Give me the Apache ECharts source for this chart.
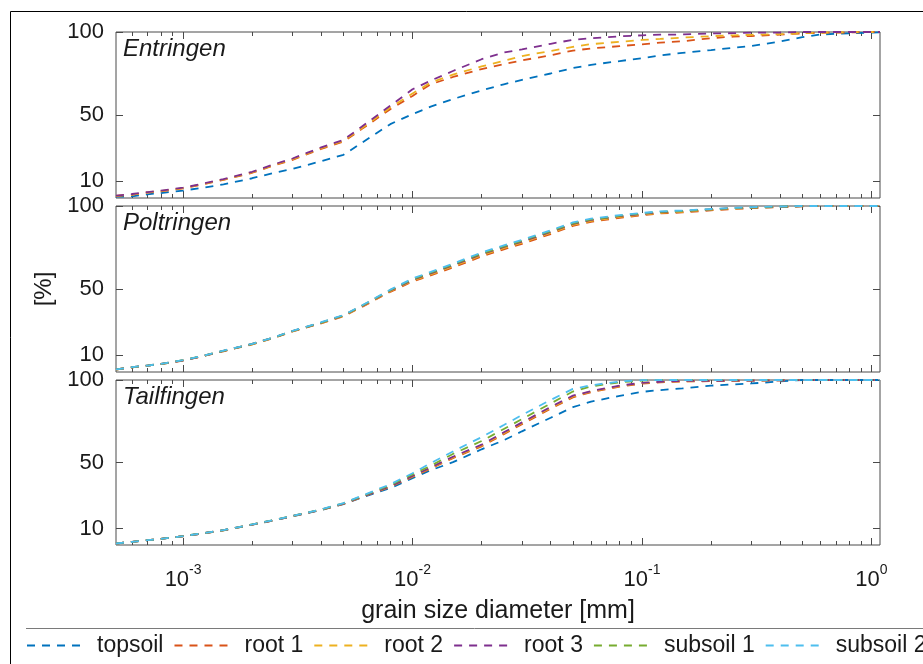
<!DOCTYPE html>
<html><head><meta charset="utf-8">
<script src="https://cdn.jsdelivr.net/npm/echarts@6/dist/echarts.min.js"></script>
<style>html,body{margin:0;padding:0;background:#fff}#c{width:923px;height:664px}</style>
</head><body><div id="c"></div>
<script>
// ---- data ----
const grainSize = [0.00051, 0.0006, 0.0007, 0.0008, 0.001, 0.0012, 0.0015, 0.002, 0.0025, 0.003, 0.004, 0.005, 0.006, 0.008, 0.01, 0.012, 0.015, 0.02, 0.025, 0.03, 0.04, 0.05, 0.06, 0.08, 0.1, 0.12, 0.15, 0.2, 0.25, 0.3, 0.4, 0.5, 0.6, 0.8, 1.0, 1.09];
const seriesNames = ['topsoil', 'root 1', 'root 2', 'root 3', 'subsoil 1', 'subsoil 2'];
const siteNames = ['Entringen', 'Poltringen', 'Tailfingen'];
const xMajorTicks = [0.001, 0.01, 0.1, 1];
const xMinorTicks = [0.0006, 0.0007, 0.0008, 0.0009, 0.002, 0.003, 0.004, 0.005, 0.006, 0.007, 0.008, 0.009, 0.02, 0.03, 0.04, 0.05, 0.06, 0.07, 0.08, 0.09, 0.2, 0.3, 0.4, 0.5, 0.6, 0.7, 0.8, 0.9];
const yTicks = [10, 50, 100];

// Entringen
const entTopsoil = [0.8, 1.0, 2.2, 3.0, 4.5, 6.0, 8.2, 11.9, 15.2, 17.5, 22.2, 26.0, 33.2, 44.5, 50.5, 55.0, 59.6, 64.8, 68.5, 71.2, 75.0, 78.3, 80.2, 82.5, 84.2, 85.9, 87.4, 89.1, 90.5, 91.6, 94.3, 96.9, 98.5, 99.2, 99.6, 99.8];
const entRoot1 = [1.2, 2.0, 3.2, 4.0, 5.8, 8.0, 10.9, 15.2, 19.7, 23.0, 29.6, 34.0, 41.5, 53.5, 61.5, 68.5, 72.9, 77.7, 80.7, 82.9, 86.0, 88.8, 90.1, 91.5, 92.6, 93.6, 94.4, 96.3, 97.2, 97.6, 98.4, 99.2, 99.5, 99.7, 100, 100];
const entRoot2 = [1.3, 2.1, 3.4, 4.2, 6.0, 8.2, 11.1, 15.5, 20.0, 23.4, 30.0, 34.5, 42.0, 54.5, 63.0, 69.5, 74.3, 79.3, 82.6, 85.5, 88.6, 91.0, 92.7, 94.1, 95.2, 95.8, 96.6, 97.5, 98.0, 98.3, 98.7, 99.2, 99.6, 99.9, 100, 100];
const entRoot3 = [1.4, 2.4, 3.6, 4.4, 6.2, 8.4, 11.4, 15.8, 20.4, 23.8, 30.5, 35.0, 42.9, 55.6, 65.5, 70.7, 76.5, 83.6, 87.6, 89.5, 92.9, 95.3, 96.2, 97.4, 98.0, 98.4, 98.5, 99.1, 99.3, 99.6, 99.7, 100, 100, 100, 100, 100];

// Poltringen
const polTopsoil = [1.5, 2.8, 3.8, 4.8, 7.0, 9.4, 12.7, 16.8, 20.8, 24.6, 29.6, 34.0, 39.5, 48.9, 55.3, 59.2, 64.1, 70.8, 75.1, 78.4, 84.2, 89.0, 91.4, 93.7, 95.1, 96.1, 96.7, 97.8, 98.6, 99.0, 99.5, 99.9, 100, 100, 100, 100];
const polRoot1 = [1.5, 2.8, 3.8, 4.8, 6.9, 9.3, 12.5, 16.6, 20.6, 24.4, 29.3, 33.6, 39.1, 48.3, 54.5, 58.2, 63.0, 69.6, 73.9, 77.2, 83.1, 88.0, 90.5, 92.9, 94.4, 95.5, 96.1, 97.4, 98.2, 98.7, 99.3, 99.8, 100, 100, 100, 100];
const polRoot2 = [1.5, 2.8, 3.8, 4.8, 7.0, 9.4, 12.7, 16.7, 20.7, 24.5, 29.5, 33.8, 39.3, 48.7, 55.0, 58.8, 63.6, 70.3, 74.6, 77.9, 83.8, 88.6, 91.0, 93.4, 94.8, 95.9, 96.5, 97.7, 98.4, 98.9, 99.4, 99.9, 100, 100, 100, 100];
const polRoot3 = [1.6, 2.9, 3.9, 4.9, 7.0, 9.4, 12.8, 16.9, 20.9, 24.7, 29.7, 34.1, 39.6, 49.1, 55.5, 59.4, 64.3, 71.0, 75.3, 78.6, 84.4, 89.2, 91.6, 93.9, 95.2, 96.3, 96.9, 98.0, 98.7, 99.1, 99.5, 99.9, 100, 100, 100, 100];
const polSubsoil1 = [1.6, 2.9, 3.9, 4.9, 7.1, 9.5, 12.8, 16.9, 20.9, 24.7, 29.8, 34.1, 39.8, 49.3, 55.8, 59.8, 64.7, 71.4, 75.7, 79.0, 84.8, 89.5, 91.9, 94.1, 95.5, 96.5, 97.0, 98.0, 98.7, 99.1, 99.6, 99.9, 100, 100, 100, 100];
const polSubsoil2 = [1.6, 2.9, 3.9, 4.9, 7.1, 9.5, 12.9, 17.0, 21.0, 24.8, 30.0, 34.3, 40.0, 49.6, 56.3, 60.3, 65.3, 72.0, 76.3, 79.6, 85.4, 90.1, 92.4, 94.5, 95.8, 96.8, 97.3, 98.2, 98.9, 99.3, 99.7, 100, 100, 100, 100, 100];

// Tailfingen
const taiTopsoil = [0.9, 1.9, 2.9, 3.7, 5.3, 6.9, 8.9, 12.3, 15.0, 17.4, 21.2, 24.8, 28.8, 34.5, 40.5, 45.3, 50.2, 58.0, 63.5, 68.9, 77.1, 83.5, 86.9, 90.4, 92.8, 93.9, 94.9, 96.6, 97.3, 97.9, 99.1, 100, 100, 100, 100, 100];
const taiRoot1 = [0.9, 1.9, 2.9, 3.7, 5.3, 6.9, 8.9, 12.3, 15.0, 17.5, 21.3, 24.9, 29.0, 35.2, 41.3, 46.3, 52.6, 59.8, 67.2, 73.2, 82.6, 89.5, 92.6, 96.0, 97.8, 98.6, 99.1, 99.3, 99.5, 99.6, 99.8, 100, 100, 100, 100, 100];
const taiRoot2 = [0.9, 1.9, 2.9, 3.7, 5.4, 6.9, 8.9, 12.4, 15.1, 17.5, 21.3, 25.0, 29.1, 35.4, 41.6, 46.7, 53.1, 60.3, 67.8, 73.8, 83.2, 90.0, 93.0, 96.3, 98.1, 98.8, 99.2, 99.4, 99.5, 99.6, 99.8, 100, 100, 100, 100, 100];
const taiRoot3 = [0.9, 1.9, 2.9, 3.7, 5.4, 6.9, 9.0, 12.4, 15.1, 17.6, 21.4, 25.1, 29.2, 35.5, 41.8, 47.0, 53.5, 60.8, 68.3, 74.3, 83.7, 90.5, 93.3, 96.6, 98.3, 98.9, 99.4, 99.5, 99.6, 99.7, 99.8, 100, 100, 100, 100, 100];
const taiSubsoil1 = [0.9, 1.9, 2.9, 3.7, 5.4, 7.0, 9.0, 12.5, 15.2, 17.7, 21.5, 25.3, 29.5, 36.2, 42.8, 48.0, 55.2, 63.0, 70.3, 76.3, 85.8, 93.0, 96.1, 98.6, 99.6, 100, 100, 100, 100, 100, 100, 100, 100, 100, 100, 100];
const taiSubsoil2 = [0.9, 1.9, 2.9, 3.7, 5.4, 7.0, 9.0, 12.5, 15.2, 17.7, 21.6, 25.4, 29.8, 36.8, 43.5, 49.6, 56.7, 65.4, 72.7, 78.8, 87.9, 94.6, 96.8, 99.1, 99.9, 100, 100, 100, 100, 100, 100, 100, 100, 100, 100, 100];

// ---- styling / layout ----
const colors = { 'topsoil': '#0072BD', 'root 1': '#D95319', 'root 2': '#EDB120', 'root 3': '#7E2F8E', 'subsoil 1': '#77AC30', 'subsoil 2': '#4DBEEE' };
const FONT = '"Liberation Sans", Arial, Helvetica, sans-serif';
const TXT = '#1a1a1a';
const AX = '#4a4a4a';
const X_MIN = 0.00051, X_MAX = 1.09;

const panels = [
  { top: 32, height: 166, lines: [['topsoil', entTopsoil], ['root 1', entRoot1], ['root 2', entRoot2], ['root 3', entRoot3]] },
  { top: 206, height: 166, lines: [['topsoil', polTopsoil], ['root 1', polRoot1], ['root 2', polRoot2], ['root 3', polRoot3], ['subsoil 1', polSubsoil1], ['subsoil 2', polSubsoil2]] },
  { top: 380, height: 165, lines: [['topsoil', taiTopsoil], ['root 1', taiRoot1], ['root 2', taiRoot2], ['root 3', taiRoot3], ['subsoil 1', taiSubsoil1], ['subsoil 2', taiSubsoil2]] }
];

const grids = [], xAxes = [], yAxes = [], series = [], titles = [];
panels.forEach((p, i) => {
  grids.push({ left: 116, width: 764, top: p.top, height: p.height, show: true, borderColor: AX, borderWidth: 1, backgroundColor: 'transparent', z: 3 });
  titles.push({ text: siteNames[i], left: 123, top: p.top + 5, padding: 0,
    textStyle: { fontStyle: 'italic', fontWeight: 'normal', fontSize: 24, color: TXT, fontFamily: FONT } });
  const base = { type: 'log', logBase: 10, gridIndex: i, min: X_MIN, max: X_MAX,
    axisLine: { show: false }, splitLine: { show: false }, minorTick: { show: false }, minorSplitLine: { show: false } };
  const tick = (vals, len) => ({ show: true, inside: true, length: len, customValues: vals, lineStyle: { color: AX, width: 1 } });
  const bottomMain = Object.assign({}, base, { position: 'bottom', axisTick: tick(xMajorTicks, 7),
    axisLabel: { show: false } });
  if (i === 2) {
    bottomMain.axisLabel = {
      show: true, customValues: xMajorTicks, margin: 18,
      formatter: v => '{b|10}{s|' + Math.round(Math.log10(v)) + '}',
      rich: {
        b: { fontSize: 22, fontFamily: FONT, color: TXT, lineHeight: 28, verticalAlign: 'bottom' },
        s: { fontSize: 14, fontFamily: FONT, color: TXT, lineHeight: 13, verticalAlign: 'top' }
      }
    };
    bottomMain.name = 'grain size diameter [mm]';
    bottomMain.nameLocation = 'middle';
    bottomMain.nameGap = 54;
    bottomMain.nameTextStyle = { fontSize: 25, fontFamily: FONT, color: TXT };
  }
  xAxes.push(bottomMain);
  xAxes.push(Object.assign({}, base, { position: 'bottom', axisTick: tick(xMinorTicks, 4), axisLabel: { show: false } }));
  xAxes.push(Object.assign({}, base, { position: 'top', axisTick: tick(xMajorTicks, 7), axisLabel: { show: false } }));
  xAxes.push(Object.assign({}, base, { position: 'top', axisTick: tick(xMinorTicks, 4), axisLabel: { show: false } }));

  const yBase = { type: 'value', gridIndex: i, min: 0, max: 100, axisLine: { show: false }, splitLine: { show: false } };
  const leftY = Object.assign({}, yBase, { position: 'left',
    axisTick: { show: true, inside: true, length: 7, customValues: yTicks, lineStyle: { color: AX } },
    axisLabel: { show: true, customValues: yTicks, margin: 12, fontSize: 22, fontFamily: FONT, color: TXT } });
  if (i === 1) {
    leftY.name = '[%]';
    leftY.nameLocation = 'middle';
    leftY.nameGap = 59;
    leftY.nameTextStyle = { fontSize: 24, fontFamily: FONT, color: TXT };
  }
  yAxes.push(leftY);
  yAxes.push(Object.assign({}, yBase, { position: 'right',
    axisTick: { show: true, inside: true, length: 7, customValues: yTicks, lineStyle: { color: AX } },
    axisLabel: { show: false } }));

  p.lines.forEach(([name, vals]) => {
    series.push({
      type: 'line', name: name, xAxisIndex: 4 * i, yAxisIndex: 2 * i,
      data: grainSize.map((x, k) => [x, vals[k]]),
      symbol: 'none', showSymbol: false, smooth: false,
      lineStyle: { color: colors[name], width: 1.8, type: [8, 7] },
      itemStyle: { color: colors[name] },
      emphasis: { disabled: true }
    });
  });
});

const chart = echarts.init(document.getElementById('c'), null, { renderer: 'canvas' });
chart.setOption({
  animation: false,
  backgroundColor: '#fff',
  title: titles,
  grid: grids,
  xAxis: xAxes,
  yAxis: yAxes,
  series: series,
  legend: {
    data: seriesNames, left: 26, top: 634, padding: 0, width: 1400, orient: 'horizontal',
    selectedMode: false, itemWidth: 54, itemHeight: 14, itemGap: 10,
    itemStyle: { opacity: 0 },
    textStyle: { fontSize: 23, fontFamily: FONT, color: TXT, padding: [0, 0, 0, 11] }
  },
  graphic: [
    { type: 'line', shape: { x1: 10.5, y1: 11.5, x2: 923, y2: 11.5 }, style: { stroke: '#000', lineWidth: 1 } },
    { type: 'line', shape: { x1: 10.5, y1: 11.5, x2: 10.5, y2: 664 }, style: { stroke: '#000', lineWidth: 1 } },
    { type: 'line', shape: { x1: 26, y1: 628.5, x2: 923, y2: 628.5 }, style: { stroke: '#7a7a7a', lineWidth: 1 } }
  ]
});
</script></body></html>
